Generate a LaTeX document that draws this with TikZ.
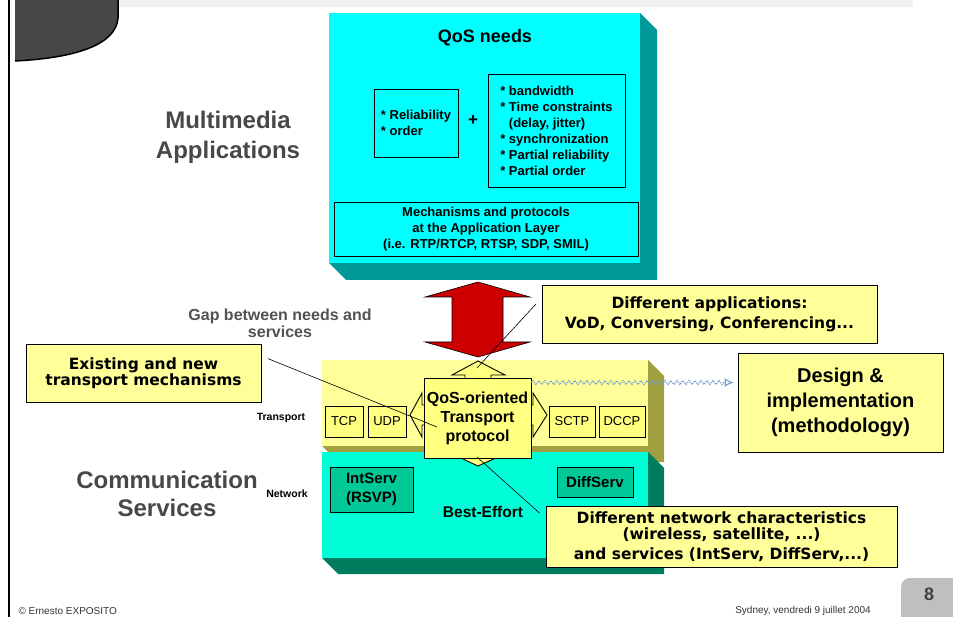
\documentclass[tikz,border=0pt]{standalone}
\usepackage{fontspec}
\setmainfont{Liberation Sans}
\newfontfamily\verd{DejaVu Sans}
\usetikzlibrary{arrows.meta,decorations.pathmorphing}

\definecolor{qcyan}{RGB}{0,255,255}
\definecolor{qteal}{RGB}{0,153,153}
\definecolor{tyel}{RGB}{255,255,153}
\definecolor{tyel2}{RGB}{255,255,128}
\definecolor{tolive}{RGB}{160,160,64}
\definecolor{naqua}{RGB}{0,255,215}
\definecolor{ngreen}{RGB}{0,125,95}
\definecolor{sgreen}{RGB}{0,200,150}
\definecolor{ared}{RGB}{204,0,0}
\definecolor{lbl}{RGB}{72,72,72}
\definecolor{dotblue}{RGB}{120,160,205}

\tikzset{
  box/.style={draw=black, line width=0.9pt, inner sep=0pt, align=center},
  needbox/.style={box, font=\bfseries\fontsize{13}{16}\selectfont},
  protobox/.style={box, fill=tyel2, minimum height=31pt, font=\fontsize{13}{15}\selectfont},
  servbox/.style={box, fill=sgreen, font=\bfseries\fontsize{15}{19}\selectfont},
  callout/.style={box, fill=tyel, font=\verd\bfseries\fontsize{15.5}{17}\selectfont},
  biglabel/.style={align=center, text=lbl, font=\bfseries\fontsize{24}{30}\selectfont},
  layerlabel/.style={font=\bfseries\fontsize{10.5}{12}\selectfont},
  foot/.style={font=\fontsize{10}{12}\selectfont, text=black!80}
}

\begin{document}
\begin{tikzpicture}[x=1pt,y=-1pt]
\useasboundingbox (0,0) rectangle (953,617);

% slide frame
\fill[black!6] (118,0) rectangle (913,7);
\fill[black!72] (15,0) -- (15,61) .. controls (75,58) and (116,45) .. (118,18) -- (118,0) -- cycle;
\draw[line width=1.5pt] (15,61) .. controls (75,58) and (116,45) .. (118,18) -- (118,0);
\draw[line width=2pt] (9,0) -- (9,617);

% application block
\fill[qteal] (640,13) -- (657,30) -- (657,280) -- (346,280) -- (329,263) -- (640,263) -- cycle;
\fill[qcyan] (329,13) rectangle (640,263);

\node at (485,38) [font=\bfseries\fontsize{18}{20}\selectfont] (qosneeds) {QoS needs};
\node at (416,123) [needbox, minimum width=84pt, minimum height=68pt, align=left] (reliab) {* Reliability\\* order};
\node at (473,121) [font=\bfseries\fontsize{17}{18}\selectfont] (plus) {+};
\node at (556.5,130.5) [needbox, minimum width=137pt, minimum height=113pt, align=left] (needs)
  {* bandwidth\\* Time constraints\\\phantom{*} (delay, jitter)\\* synchronization\\* Partial reliability\\* Partial order};
\node at (486,229) [needbox, minimum width=304pt, minimum height=54pt] (applayer)
  {Mechanisms and protocols\\at the Application Layer\\(i.e. RTP/RTCP, RTSP, SDP, SMIL)};

% gap arrow
\draw[fill=ared, line width=0.6pt] (478,282) -- (530,297) -- (503,297) -- (503,342) -- (530,342) -- (478,357)
  -- (425,342) -- (452,342) -- (452,297) -- (425,297) -- cycle;

% transport layer
\fill[tolive] (648,360) -- (664,376) -- (664,462) -- (338,462) -- (322,446) -- (648,446) -- cycle;
\fill[tyel] (322,360) rectangle (648,446);

% network layer
\fill[ngreen] (648,452) -- (664,468) -- (664,574) -- (338,574) -- (322,558) -- (648,558) -- cycle;
\fill[naqua] (322,452) rectangle (648,558);

\node at (344,421.5) [protobox, minimum width=38pt] (tcp) {TCP};
\node at (387,421.5) [protobox, minimum width=38pt] (udp) {UDP};
\node at (572,421.5) [protobox, minimum width=46pt] (sctp) {SCTP};
\node at (622,421.5) [protobox, minimum width=46pt] (dccp) {DCCP};

\node at (371.5,489.5) [servbox, minimum width=83pt, minimum height=45pt] (intserv) {IntServ\\(RSVP)};
\node at (595,482) [servbox, minimum width=76pt, minimum height=30pt] (diffserv) {DiffServ};
\node at (483,512) [font=\bfseries\fontsize{15.5}{17}\selectfont] (besteffort) {Best-Effort};

% four-way arrow behind the new protocol
\draw[fill=tyel2, line width=0.9pt] (478,361) -- (505,375) -- (491,375) -- (491,405) -- (533,405) -- (533,393)
  -- (547,415) -- (533,437) -- (533,425) -- (491,425) -- (491,453) -- (507,453) -- (478,466) -- (450,453)
  -- (465,453) -- (465,425) -- (422,425) -- (422,437) -- (410,415) -- (422,393) -- (422,405) -- (465,405)
  -- (465,375) -- (452,375) -- cycle;
\node at (477.5,418) [box, fill=tyel2, minimum width=107pt, minimum height=80pt,
  font=\bfseries\fontsize{16}{19}\selectfont] (qos) {QoS-oriented\\Transport\\protocol};

\coordinate (uptip) at (477,368);
\coordinate (downtip) at (477,457);
\coordinate (qosin) at (437,427);

% side labels
\node at (228,137.5) [biglabel] (mmapps) {Multimedia\\Applications};
\node at (167,494) [biglabel, font=\bfseries\fontsize{24}{28}\selectfont] (comserv) {Communication\\Services};
\node at (280,323.5) [align=center, text=black!68, font=\bfseries\fontsize{16}{17}\selectfont] (gap) {Gap between needs and\\services};
\node at (281,418) [layerlabel] (translbl) {Transport};
\node at (287,494) [layerlabel] (netlbl) {Network};

% callouts
\node at (143.5,373) [callout, minimum width=235pt, minimum height=58pt, font=\verd\bfseries\fontsize{15.5}{15.5}\selectfont] (exist)
  {Existing and new\\transport mechanisms};
\node at (709.5,314) [callout, minimum width=335pt, minimum height=58pt, font=\verd\bfseries\fontsize{15.5}{20}\selectfont] (apps)
  {Different applications:\\VoD, Conversing, Conferencing...};
\node at (721.5,536.5) [callout, minimum width=351pt, minimum height=61pt, font=\verd\bfseries\fontsize{15.5}{16}\selectfont] (netchar)
  {Different network characteristics\\(wireless, satellite, ...)\\[4pt]and services (IntServ, DiffServ,...)};
\node at (840.5,402.5) [callout, minimum width=205pt, minimum height=99pt, font=\bfseries\fontsize{20}{25}\selectfont] (design)
  {Design \&\\implementation\\(methodology)};

\draw[line width=0.6pt, shorten <=7pt] ([yshift=17pt]exist.east) -- (qosin);
\draw[line width=0.6pt, shorten <=8pt] ([yshift=16pt]apps.west) -- (uptip);
\draw[line width=0.6pt, shorten <=8pt] ([yshift=18pt]netchar.west) -- (downtip);

\coordinate (dotstart) at ([yshift=-5pt]qos.north east);
\draw[dotblue, densely dotted, line width=1.2pt, shorten >=4pt, -{Latex[length=9pt,width=9pt,open]},
  decoration={zigzag, segment length=6pt, amplitude=2pt, post length=12pt}, decorate] (dotstart) -- (dotstart -| design.west);

% footer
\fill[black!25, rounded corners=9pt] (901,578) rectangle (965,630);
\node at (929,594) [text=black!75, font=\bfseries\fontsize{18}{20}\selectfont] (pagenum) {8};
\node at (15,611) [foot, anchor=west] (author) {\textcopyright{} Ernesto EXPOSITO};
\node at (803,611) [foot] (place) {Sydney, vendredi 9 juillet 2004};

\end{tikzpicture}
\end{document}
